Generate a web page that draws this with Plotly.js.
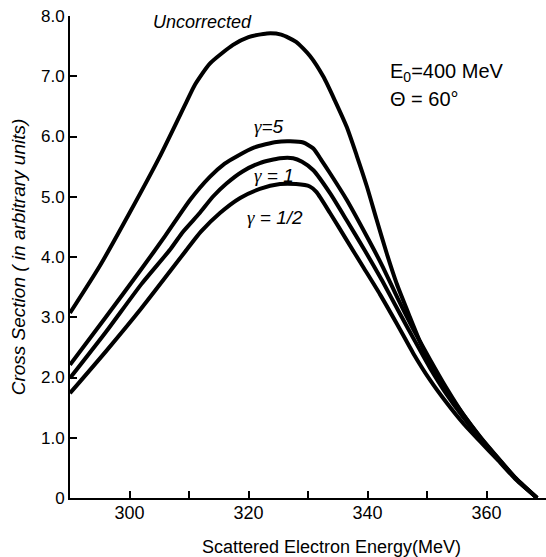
<!DOCTYPE html>
<html>
<head>
<meta charset="utf-8">
<script src="https://cdn.plot.ly/plotly-3.0.1.min.js"></script>
<style>html,body{margin:0;padding:0;background:#fff;}#chart{width:546px;height:557px;}</style>
</head>
<body>
<div id="chart"></div>
<script>
// Scattered electron energy (MeV) and cross section (arbitrary units)
const xUncorrected = [290, 295, 300, 305, 309.6, 311, 313.5, 317.4, 320, 323.1, 325.5, 328, 330.3, 332.6, 334.5, 336.5, 338.2, 339.9, 341.5, 343.2, 344.9, 347.1, 348.8, 350.5, 353, 356, 359, 362, 365, 368.5];
const yUncorrected = [3.07, 3.85, 4.73, 5.65, 6.58, 6.86, 7.21, 7.52, 7.65, 7.71, 7.69, 7.57, 7.34, 6.99, 6.60, 6.16, 5.68, 5.17, 4.63, 4.07, 3.56, 3.01, 2.60, 2.24, 1.82, 1.40, 1.01, 0.66, 0.32, 0];

const xGamma5 = [290, 296, 302, 306, 310.2, 313.5, 316, 318, 321, 324.7, 327, 329.2, 330.9, 332.3, 333.7, 336.5, 339.9, 342.5, 345, 347.7, 350.5, 353.3, 356, 359, 362, 365, 368.5];
const yGamma5 = [2.21, 3.00, 3.80, 4.35, 4.95, 5.33, 5.55, 5.67, 5.82, 5.91, 5.92, 5.90, 5.80, 5.60, 5.39, 4.95, 4.34, 3.85, 3.33, 2.80, 2.30, 1.82, 1.40, 1.00, 0.65, 0.32, 0];

const xGamma1 = [290, 296, 302, 306.8, 309, 311.8, 314, 316.3, 319, 321.9, 325.3, 327.5, 329, 330.9, 333.7, 336.5, 339.6, 342.5, 345.5, 348, 350.5, 353.3, 356, 359, 362, 365, 368.5];
const yGamma1 = [1.99, 2.75, 3.55, 4.12, 4.42, 4.73, 5.00, 5.22, 5.42, 5.56, 5.64, 5.64, 5.58, 5.44, 5.06, 4.61, 4.10, 3.60, 3.05, 2.60, 2.16, 1.72, 1.35, 0.98, 0.64, 0.31, 0];

const xGammaHalf = [290, 296, 302, 309.6, 312, 315.2, 318.6, 321.9, 325.3, 328, 330.3, 331.4, 333.7, 336.5, 339.3, 342.1, 345, 347.7, 350.5, 353.3, 356, 359, 362, 365, 368.5];
const yGammaHalf = [1.74, 2.43, 3.15, 4.12, 4.42, 4.73, 4.98, 5.13, 5.21, 5.21, 5.17, 5.08, 4.73, 4.28, 3.83, 3.38, 2.88, 2.40, 1.96, 1.58, 1.25, 0.93, 0.62, 0.30, 0];

const xTickVals = [300, 310, 320, 330, 340, 350, 360, 370];
const xTickText = ['300', '', '320', '', '340', '', '360', ''];
const yTickVals = [0, 1, 2, 3, 4, 5, 6, 7, 8];
const yTickText = ['0', '1.0', '2.0', '3.0', '4.0', '5.0', '6.0', '7.0', '8.0'];

const FONT = 'Liberation Sans, Arial, sans-serif';
const GAMMA = '<span style="font-family:Liberation Serif">γ</span>';
const lineStyle = {color: '#000', width: 4, shape: 'spline', smoothing: 0.6};

const traces = [
  {x: xUncorrected, y: yUncorrected, name: 'Uncorrected'},
  {x: xGamma5, y: yGamma5, name: 'γ=5'},
  {x: xGamma1, y: yGamma1, name: 'γ=1'},
  {x: xGammaHalf, y: yGammaHalf, name: 'γ=1/2'}
].map(t => Object.assign(t, {type: 'scatter', mode: 'lines', line: lineStyle, hoverinfo: 'skip'}));

const layout = {
  width: 546, height: 557,
  margin: {l: 70, r: 0, t: 16, b: 59},
  paper_bgcolor: '#fff', plot_bgcolor: '#fff',
  showlegend: false,
  font: {family: FONT, color: '#000', size: 17},
  xaxis: {
    range: [290, 370], tickvals: xTickVals, ticktext: xTickText,
    ticks: 'inside', ticklen: 7, tickwidth: 2, tickcolor: '#000',
    showline: true, linecolor: '#000', linewidth: 2, showgrid: false, zeroline: false,
    ticklabelstandoff: -3,
    tickfont: {family: FONT, size: 18, color: '#000'}
  },
  yaxis: {
    range: [0, 8], tickvals: yTickVals, ticktext: yTickText,
    ticks: 'inside', ticklen: 7, tickwidth: 2, tickcolor: '#000',
    showline: true, linecolor: '#000', linewidth: 2, showgrid: false, zeroline: false,
    tickfont: {family: FONT, size: 17, color: '#000'},
    title: {text: 'Cross Section ( in arbitrary units)', font: {family: FONT, size: 19, color: '#000', style: 'italic'}, standoff: 10}
  },
  annotations: [
    {xref: 'paper', yref: 'paper', x: 0.55, y: -0.102, yanchor: 'middle', xanchor: 'center', showarrow: false,
     text: 'Scattered Electron Energy(MeV)', font: {family: FONT, size: 18, color: '#000'}},
    {xref: 'x', yref: 'y', x: 312.3, y: 7.9, showarrow: false, text: 'Uncorrected',
     font: {family: FONT, size: 18, color: '#000', style: 'italic'}},
    {xref: 'x', yref: 'y', x: 343.5, y: 7.07, xanchor: 'left', showarrow: false, text: 'E<sub>0</sub>=400 MeV',
     font: {family: FONT, size: 20, color: '#000'}},
    {xref: 'x', yref: 'y', x: 343.5, y: 6.63, xanchor: 'left', showarrow: false, text: 'Θ = 60°',
     font: {family: FONT, size: 20, color: '#000'}},
    {xref: 'x', yref: 'y', x: 323.4, y: 6.17, showarrow: false, text: GAMMA + '=5',
     font: {family: FONT, size: 19, color: '#000', style: 'italic'}},
    {xref: 'x', yref: 'y', x: 324.3, y: 5.36, showarrow: false, text: GAMMA + ' = 1',
     font: {family: FONT, size: 19, color: '#000', style: 'italic'}},
    {xref: 'x', yref: 'y', x: 324.5, y: 4.65, showarrow: false, text: GAMMA + ' = 1/2',
     font: {family: FONT, size: 19, color: '#000', style: 'italic'}}
  ]
};

Plotly.newPlot('chart', traces, layout, {staticPlot: true, displayModeBar: false});
</script>
</body>
</html>
